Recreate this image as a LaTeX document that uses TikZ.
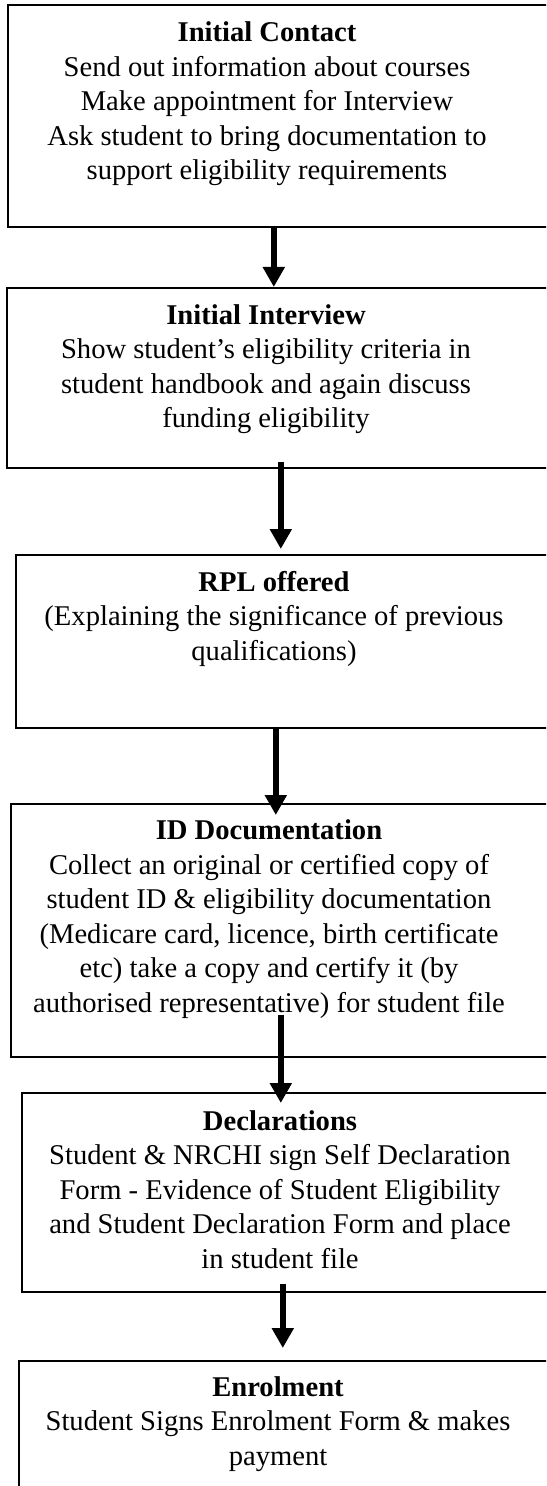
\documentclass[tikz,border=0pt]{standalone}
\usepackage{fontspec}
\setmainfont{Liberation Serif}
\usetikzlibrary{arrows.meta,calc}
\begin{document}
\begin{tikzpicture}[x=0.5pt,y=-0.5pt,
  box/.style={draw=black, line width=0.8pt, rectangle, anchor=north west, inner sep=0pt},
  txt/.style={align=center, anchor=base, inner sep=0pt, font=\fontsize{14.3}{17.25}\selectfont},
  arr/.style={line width=3.3pt, -{Triangle[width=10.5pt,length=10pt]}}]
\useasboundingbox (0,0) rectangle (546,1486);
\clip (0,0) rectangle (546,1486);
% boxes
\node[box, minimum width=272.35pt, minimum height=111pt] (b1) at (7.3,4) {};
\node[box, minimum width=273pt, minimum height=90pt] (b2) at (6,287) {};
\node[box, minimum width=268.5pt, minimum height=86.5pt] (b3) at (15,554) {};
\node[box, minimum width=271pt, minimum height=126.5pt] (b4) at (10,803) {};
\node[box, minimum width=265.5pt, minimum height=99.5pt] (b5) at (21,1092) {};
\node[box, minimum width=267pt, minimum height=75pt] (b6) at (18,1360) {};
% texts (anchor base = last line)
\node[txt] (t1) at (267,180) {\textbf{Initial Contact}\\Send out information about courses\\Make appointment for Interview\\Ask student to bring documentation to\\support eligibility requirements};
\node[txt] (t2) at (266,428) {\textbf{Initial Interview}\\Show student’s eligibility criteria in\\student handbook and again discuss\\funding eligibility};
\node[txt] (t3) at (274,660) {\textbf{RPL offered}\\(Explaining the significance of previous\\qualifications)};
\node[txt] (t4) at (269,1012) {\textbf{ID Documentation}\\Collect an original or certified copy of\\student ID \& eligibility documentation\\(Medicare card, licence, birth certificate\\etc) take a copy and certify it (by\\authorised representative) for student file};
\node[txt] (t5) at (280,1268) {\textbf{Declarations}\\Student \& NRCHI sign Self Declaration\\Form - Evidence of Student Eligibility\\and Student Declaration Form and place\\in student file};
\node[txt] (t6) at (278,1465) {\textbf{Enrolment}\\Student Signs Enrolment Form \& makes\\payment};
% arrows
\draw[arr] ($(b1.south)+(-6.65,0)$) -- ($(b2.north)+(-6,0)$);
\draw[arr] ($(b2.south)+(1,-7)$) -- ($(b3.north)+(-3.5,-5)$);
\draw[arr] ($(b3.south)+(-8.5,0)$) -- ($(b4.north)+(-6,12)$);
\draw[arr] ($(b4.south)+(-1,-43)$) -- ($(b5.north)+(-6.5,11)$);
\draw[arr] ($(b5.south)+(-4.5,-9)$) -- ($(b6.north)+(-3,-12)$);
\end{tikzpicture}
\end{document}
